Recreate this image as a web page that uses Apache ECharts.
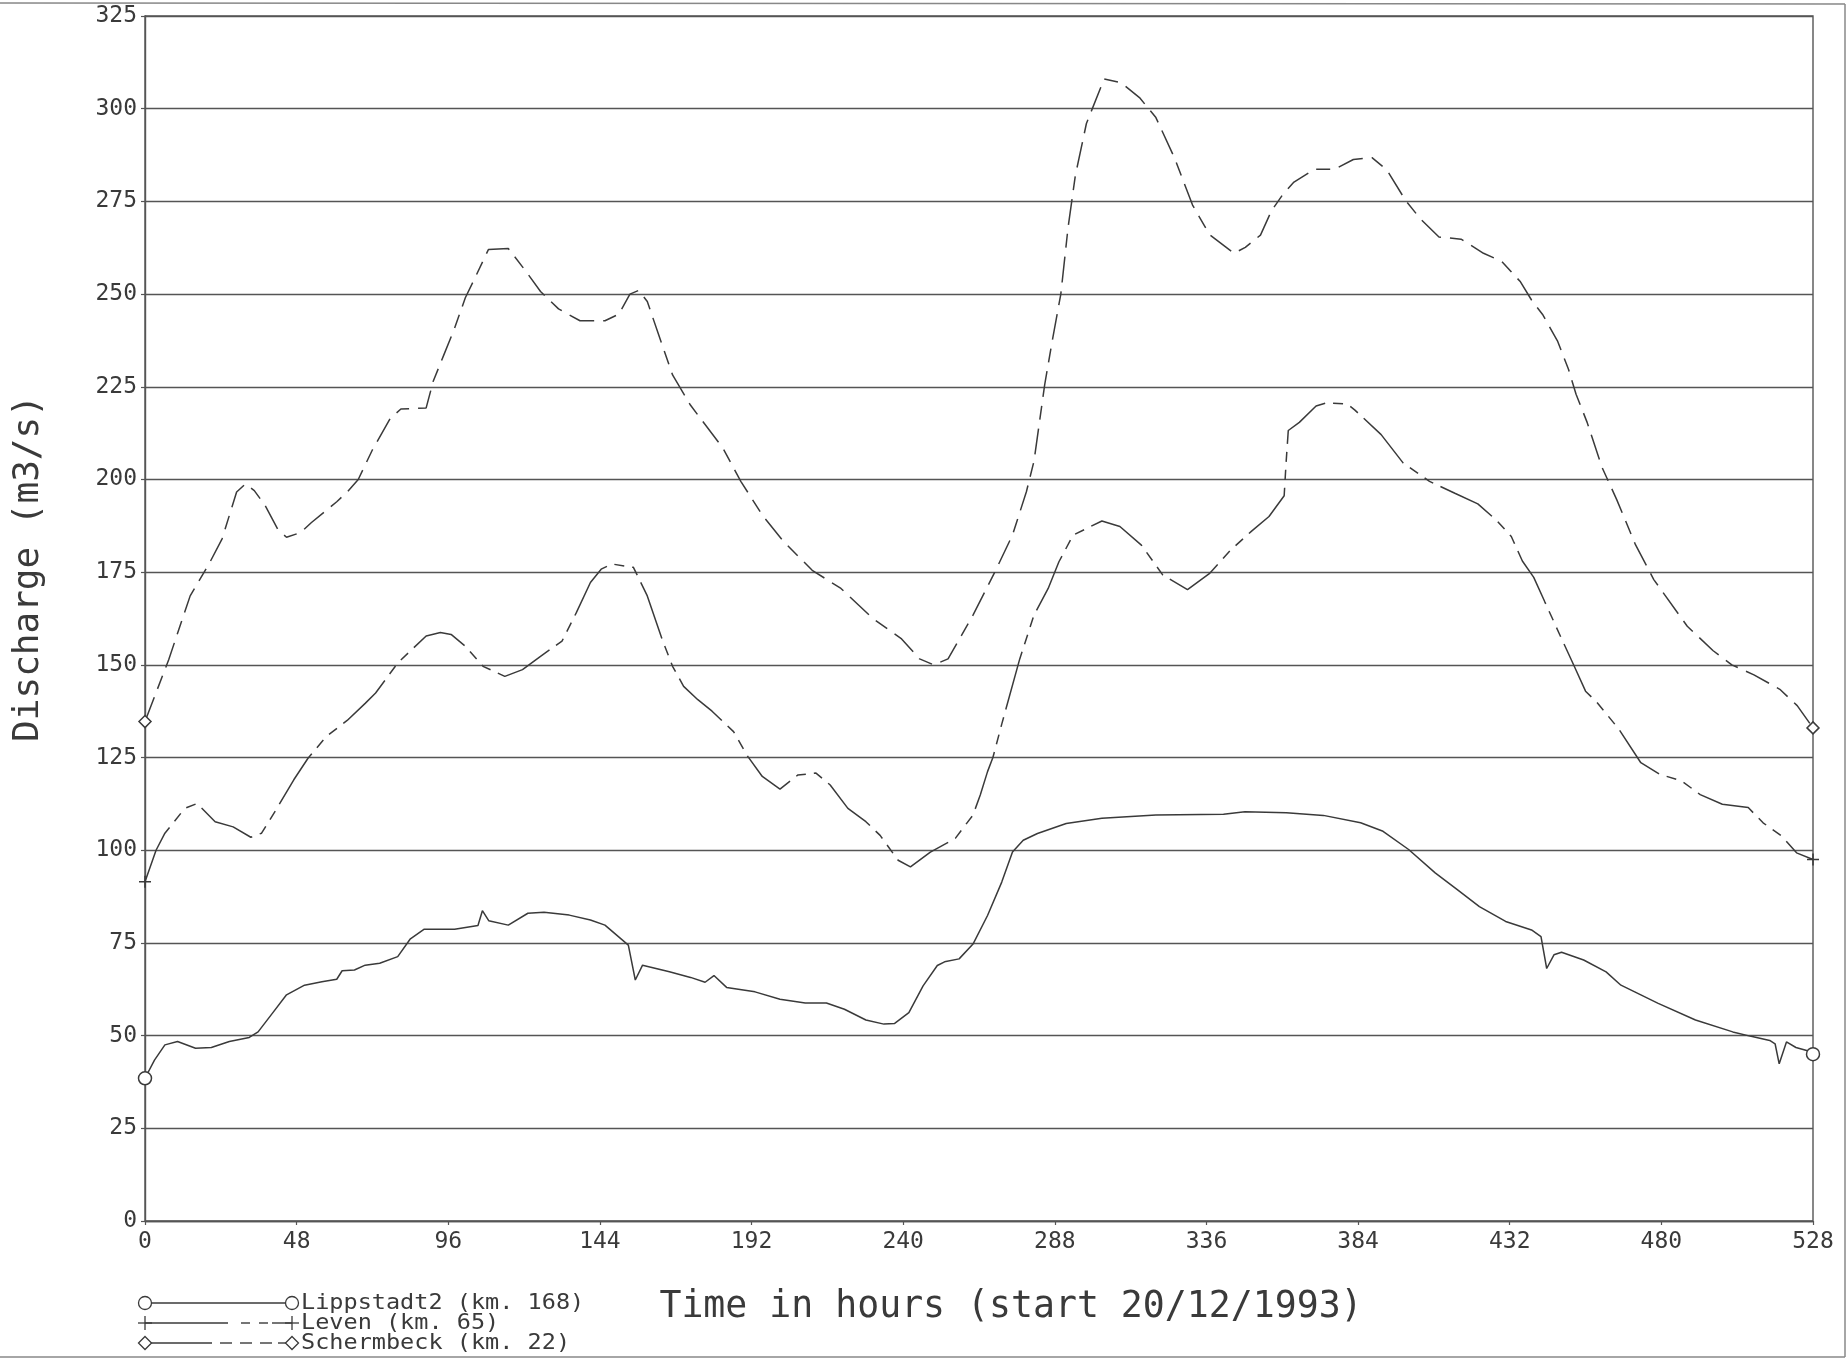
<!DOCTYPE html>
<html>
<head>
<meta charset="utf-8">
<script src="https://cdn.jsdelivr.net/npm/echarts@6/dist/echarts.min.js"></script>
<style>
  html, body { margin: 0; padding: 0; background: #ffffff; }
  #chart { width: 1848px; height: 1361px; }
</style>
</head>
<body>
<div id="chart"></div>
<script>
// Discharge hydrographs on the Lippe, Dec 1993 - Jan 1994 flood
const xTicks = [0, 48, 96, 144, 192, 240, 288, 336, 384, 432, 480, 528];
const yTicks = [0, 25, 50, 75, 100, 125, 150, 175, 200, 225, 250, 275, 300, 325];

const lippHours = [0, 3, 6.3, 10.3, 16, 21, 26.7, 33, 35.8, 40.3, 44.8, 50.5, 56, 60.7, 62.4, 66.3, 69.7, 74.3, 80, 83.9, 88.4, 98, 105.4, 106.8, 108.8, 115, 121.2, 126.3, 134.3, 141, 145.6, 153, 155.2, 157.5, 166, 172.7, 177.3, 180.1, 184.1, 193.1, 201, 209, 215.7, 221.4, 228.2, 233.9, 237.3, 241.8, 246.3, 250.8, 253.1, 257.7, 262.1, 266.7, 271.2, 274.6, 278, 282.5, 291.6, 302.9, 320, 341.4, 348.2, 361.3, 373, 384.8, 391.9, 400, 408.4, 415.4, 422.4, 430.7, 438.9, 441.9, 443.7, 446, 448.4, 455.4, 462.5, 467.2, 479, 490.8, 502.6, 508.4, 514.3, 516, 517.3, 519.6, 522.6, 526, 528];
const lippFlow = [38.5, 43.4, 47.5, 48.4, 46.6, 46.8, 48.4, 49.5, 51, 56, 61, 63.6, 64.5, 65.2, 67.5, 67.7, 69, 69.5, 71.3, 76, 78.7, 78.7, 79.7, 83.7, 81, 79.8, 83, 83.3, 82.5, 81.2, 79.8, 74.4, 65, 69, 67.2, 65.7, 64.4, 66.2, 63, 61.8, 59.8, 58.8, 58.8, 57.1, 54.2, 53.1, 53.3, 56.2, 63.4, 68.9, 69.9, 70.7, 74.7, 82.4, 91.4, 99.5, 102.7, 104.5, 107.2, 108.6, 109.5, 109.7, 110.4, 110.1, 109.4, 107.4, 105.1, 100.2, 93.9, 89.4, 84.8, 80.8, 78.5, 76.7, 68.1, 71.8, 72.5, 70.4, 67.2, 63.6, 58.7, 54.2, 51, 49.8, 48.7, 47.8, 42.4, 48.3, 46.8, 46, 45];

const levenHours = [0, 3.5, 6.3, 12.6, 16.5, 22.2, 27.9, 33.5, 36.9, 41.4, 47.1, 51.6, 57.3, 64, 69.7, 73, 80, 89, 93.5, 96.9, 101.4, 107, 113.9, 119.5, 125.2, 132, 136.5, 141, 144.4, 147.8, 154.6, 159, 163.7, 167, 170.5, 175, 179.5, 186.3, 190.8, 195.4, 201, 206.7, 212.4, 216.9, 222.5, 228.2, 232.7, 238.4, 242.3, 248.6, 256.5, 262.1, 264.4, 266.7, 268.4, 271.2, 276.9, 281.4, 285.9, 289.3, 293.8, 302.9, 308.6, 315.4, 322.2, 330, 336.9, 343.7, 350.2, 355.8, 360.6, 361.2, 361.9, 365.4, 370.7, 374.2, 380.7, 383, 391.3, 398.3, 406.6, 414.8, 421.9, 427.8, 432.5, 436, 439.6, 443.1, 447.8, 452.5, 456, 459.6, 466.5, 473.5, 479.4, 486.4, 492.3, 499.3, 507.5, 512.2, 518.1, 522.8, 528];
const levenFlow = [91.5, 100, 104.6, 111.3, 112.6, 107.7, 106.3, 103.5, 104.6, 110.8, 119, 124.8, 130.6, 135, 139.6, 142.4, 150.5, 157.8, 158.7, 158.2, 155, 149.6, 146.9, 148.7, 152.3, 156.4, 164, 172.2, 175.8, 177.2, 176.3, 168.6, 156.9, 149.6, 144.2, 140.6, 137.5, 132, 125.3, 119.9, 116.5, 120.3, 120.8, 117.6, 111.3, 107.7, 104, 97.3, 95.5, 99.5, 103.2, 109.5, 114.9, 121.2, 125, 134, 151.6, 163.4, 170.6, 177.8, 185, 188.8, 187.3, 182.3, 174.2, 170.3, 174.6, 181, 186, 190, 195.6, 204.4, 213.2, 215.4, 219.8, 220.7, 220.3, 218.7, 212.1, 204.4, 199.5, 196.2, 193.4, 189, 184.6, 178, 173.6, 167, 158.2, 149.5, 142.9, 139.9, 132.7, 123.6, 120.5, 118.7, 115, 112.4, 111.5, 107.4, 103.8, 99.3, 97.5];

const scherHours = [0, 7.5, 14.3, 20.5, 24.4, 29, 31.8, 34.6, 38, 42, 44.8, 49.3, 52.7, 60.7, 64, 67.5, 72, 77.6, 81, 89, 91.2, 94.6, 98, 101.4, 104.8, 108.7, 115, 120.7, 125.2, 130.9, 137.7, 145.6, 150, 153.5, 156.3, 159, 162.6, 167, 172.7, 182.9, 188.6, 195.4, 202.2, 211.2, 220.3, 230.4, 239.5, 245.2, 249.7, 254.2, 262.1, 269, 274.6, 279, 281.4, 284.8, 287, 289.9, 292.2, 294.5, 298, 303.6, 309, 314.8, 320, 326, 331.6, 337, 344.7, 348.3, 353.1, 356.6, 360.2, 363.7, 370.2, 376.7, 382.5, 388.4, 393.1, 399, 403.7, 409.6, 416.6, 423.7, 429.5, 435.4, 438.9, 442.4, 447.1, 450.6, 453, 456.5, 461.2, 465.9, 471.8, 477.6, 488.2, 496.4, 502.3, 509.3, 517.5, 523, 528];
const scherFlow = [134.7, 151.4, 168.6, 177.6, 184, 196.6, 198.8, 197, 193, 186.6, 184.4, 185.7, 188.4, 194, 196.6, 200, 208, 216.4, 219, 219.3, 226.4, 233.6, 240.8, 249, 255, 262, 262.3, 256, 250.7, 246, 242.8, 242.8, 244.6, 250, 251, 248, 239, 228.2, 220, 208.5, 199.5, 190.4, 183.2, 175.5, 170.6, 162.5, 157, 151.6, 150, 151.6, 163.4, 175, 185, 196.7, 204.9, 225.6, 236.5, 250, 268, 282, 296, 308, 307, 303, 297.6, 286.5, 274, 266, 261, 262.6, 265.9, 272.5, 276.9, 280.2, 283.7, 283.7, 286.3, 286.8, 283.5, 275.3, 270.3, 265.4, 264.8, 261, 258.8, 253.3, 248.4, 244.5, 237.4, 229.7, 223, 215.4, 203.3, 194.5, 182.4, 173, 160.4, 153.8, 150, 147.3, 143.4, 139, 133];

const seriesNames = ['Lippstadt2 (km. 168)', 'Leven (km. 65)', 'Schermbeck (km. 22)'];

const INK = '#3a3a3a';
const MONO = '"DejaVu Sans Mono", "Liberation Mono", monospace';
const PLUS = 'path://M0,-10 L0,10 M-10,0 L10,0';

// end-point markers only: first and last sample carry a symbol
function withEndMarkers(hours, flow, symbol, size) {
  const last = hours.length - 1;
  return hours.map((h, i) => {
    const item = { value: [h, flow[i]] };
    if (i === 0 || i === last) {
      item.symbol = symbol;
      item.symbolSize = size;
    } else {
      item.symbol = 'none';
    }
    return item;
  });
}

function lineSeries(name, data, dash) {
  return {
    name: name,
    type: 'line',
    data: data,
    clip: false,
    smooth: false,
    showSymbol: true,
    showAllSymbol: true,
    animation: false,
    lineStyle: { color: INK, width: 1.5, type: dash },
    itemStyle: { color: '#ffffff', borderColor: INK, borderWidth: 1.5 },
    emphasis: { disabled: true }
  };
}

// legend key: marker, sample stroke, marker, label
function legendGraphics() {
  const rows = [
    { y: 1303, mark: 'circle', segs: [[151, 286]] },
    { y: 1323, mark: 'plus', segs: [[145, 228], [241, 250], [259, 268], [272, 292]] },
    { y: 1343, mark: 'diamond', segs: [[151, 212], [220, 232], [240, 252], [260, 272], [278, 286]] }
  ];
  const out = [];
  rows.forEach((r, idx) => {
    r.segs.forEach(s => out.push({
      type: 'line', shape: { x1: s[0], y1: r.y, x2: s[1], y2: r.y },
      style: { stroke: INK, lineWidth: 1.4 }
    }));
    [145, 292].forEach(cx => {
      if (r.mark === 'circle') {
        out.push({ type: 'circle', shape: { cx: cx, cy: r.y, r: 6.5 },
          style: { fill: '#fff', stroke: INK, lineWidth: 1.3 } });
      } else if (r.mark === 'plus') {
        out.push({ type: 'line', shape: { x1: cx, y1: r.y - 7, x2: cx, y2: r.y + 7 },
          style: { stroke: INK, lineWidth: 1.3 } });
        out.push({ type: 'line', shape: { x1: cx - 7, y1: r.y, x2: cx + 7, y2: r.y },
          style: { stroke: INK, lineWidth: 1.3 } });
      } else {
        out.push({ type: 'polygon', shape: { points: [[cx, r.y - 6.5], [cx + 6.5, r.y], [cx, r.y + 6.5], [cx - 6.5, r.y]] },
          style: { fill: '#fff', stroke: INK, lineWidth: 1.3 } });
      }
    });
    out.push({ type: 'text', x: 301, y: r.y + 1, scaleX: 1.12, scaleY: 1,
      style: { text: seriesNames[idx], font: '21px ' + MONO, fill: INK, verticalAlign: 'middle' } });
  });
  // page frame
  out.push({ type: 'line', shape: { x1: 0, y1: 3, x2: 1845, y2: 4 }, style: { stroke: '#888', lineWidth: 1.5 } });
  out.push({ type: 'line', shape: { x1: 1845, y1: 4, x2: 1845, y2: 1357 }, style: { stroke: '#888', lineWidth: 1.5 } });
  out.push({ type: 'line', shape: { x1: 0, y1: 1357, x2: 1845, y2: 1357 }, style: { stroke: '#888', lineWidth: 1.5 } });
  return out;
}

const chart = echarts.init(document.getElementById('chart'), null, { renderer: 'canvas' });

chart.setOption({
  backgroundColor: '#ffffff',
  animation: false,
  grid: {
    left: 145, right: 35, top: 16, bottom: 140,
    containLabel: false, outerBoundsMode: 'none',
    show: true, borderColor: '#555', borderWidth: 1.4, backgroundColor: 'transparent'
  },
  xAxis: {
    type: 'value',
    min: xTicks[0], max: xTicks[xTicks.length - 1], interval: 48,
    name: 'Time in hours (start 20/12/1993)',
    nameLocation: 'middle', nameGap: 68,
    nameTextStyle: { fontFamily: MONO, fontSize: 36.5, color: INK, padding: [0, 0, 0, 64] },
    axisLine: { lineStyle: { color: '#555', width: 1.4 } },
    axisTick: { show: true, length: 4, lineStyle: { color: '#555', width: 1.2 } },
    axisLabel: { fontFamily: MONO, fontSize: 23, color: INK, margin: 10,
      formatter: v => (xTicks.indexOf(v) >= 0 ? String(v) : '') },
    splitLine: { show: false }
  },
  yAxis: {
    type: 'value',
    min: yTicks[0], max: yTicks[yTicks.length - 1], interval: 25,
    name: 'Discharge (m3/s)',
    nameLocation: 'middle', nameGap: 98, nameRotate: 90,
    nameTextStyle: { fontFamily: MONO, fontSize: 36, color: INK, padding: [0, 0, 0, 100] },
    axisLine: { show: true, lineStyle: { color: '#555', width: 1.4 } },
    axisTick: { show: true, length: 4, lineStyle: { color: '#555', width: 1.2 } },
    axisLabel: { fontFamily: MONO, fontSize: 23, color: INK, margin: 8,
      formatter: v => (yTicks.indexOf(v) >= 0 ? String(v) : '') },
    splitLine: { show: true, lineStyle: { color: '#555', width: 1.4 } }
  },
  series: [
    lineSeries(seriesNames[0], withEndMarkers(lippHours, lippFlow, 'circle', 13), 'solid'),
    lineSeries(seriesNames[1], withEndMarkers(levenHours, levenFlow, PLUS, 12), [60, 8, 10, 8, 10, 8]),
    lineSeries(seriesNames[2], withEndMarkers(scherHours, scherFlow, 'diamond', 12), [26, 9, 14, 9])
  ],
  graphic: legendGraphics()
});
</script>
</body>
</html>
